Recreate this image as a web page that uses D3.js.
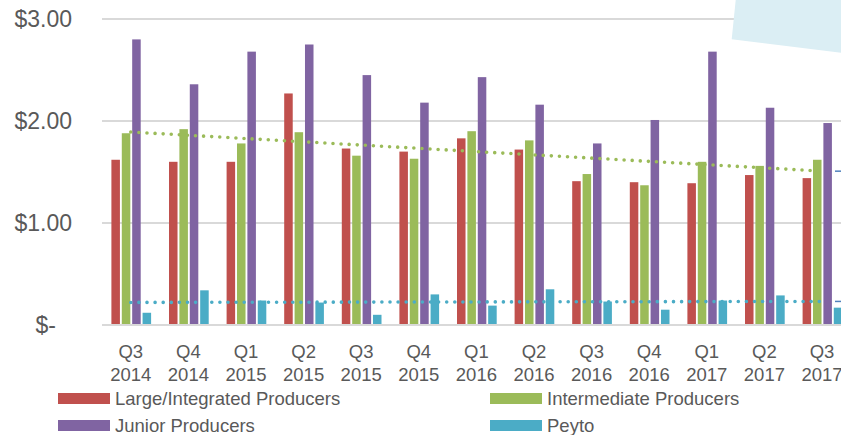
<!DOCTYPE html>
<html>
<head>
<meta charset="utf-8">
<script src="https://cdn.jsdelivr.net/npm/d3@7"></script>
<style>
	body { margin: 0; background: #fff; }
	text { font-family: "Liberation Sans", Arial, sans-serif; fill: #595959; }
</style>
</head>
<body>
<div id="graph"></div>
<script>
var width = 841;
var height = 435;

var quarters = ["Q3", "Q4", "Q1", "Q2", "Q3", "Q4", "Q1", "Q2", "Q3", "Q4", "Q1", "Q2", "Q3"];
var years = ["2014", "2014", "2015", "2015", "2015", "2015", "2016", "2016", "2016", "2016", "2017", "2017", "2017"];

var seriesNames = ["Large/Integrated Producers", "Intermediate Producers", "Junior Producers", "Peyto"];
var seriesColors = ["#c0504d", "#9bbb59", "#8064a2", "#4bacc6"];

var large = [1.62, 1.60, 1.60, 2.27, 1.73, 1.70, 1.83, 1.72, 1.41, 1.40, 1.39, 1.47, 1.44];
var intermediate = [1.88, 1.92, 1.78, 1.89, 1.66, 1.63, 1.90, 1.81, 1.48, 1.37, 1.60, 1.56, 1.62];
var junior = [2.80, 2.36, 2.68, 2.75, 2.45, 2.18, 2.43, 2.16, 1.78, 2.01, 2.68, 2.13, 1.98];
var peyto = [0.12, 0.34, 0.24, 0.22, 0.10, 0.30, 0.19, 0.35, 0.23, 0.15, 0.24, 0.29, 0.17];

var yTicks = [0, 1, 2, 3];

var seriesValues = [large, intermediate, junior, peyto];

// category index list for the band scale
var cats = quarters.map(function (q, i) { return i; });

var left = 102;
var band = 57.6;

var xScale = d3.scaleBand().domain(cats).range([left, left + band * cats.length]);
var x1 = d3.scaleBand().domain(d3.range(4)).range([9.4, 49.1]).paddingInner(0.18);
var yScale = d3.scaleLinear().domain([0, 3]).range([325, 19]);

var chart = d3.select("#graph")
	.append("svg")
	.attr("width", width)
	.attr("height", height);

// gridlines
chart.append("g")
	.selectAll("line")
	.data(yTicks)
	.enter()
	.append("line")
	.attr("x1", left)
	.attr("x2", width)
	.attr("y1", function (d) { return yScale(d); })
	.attr("y2", function (d) { return yScale(d); })
	.attr("stroke", "#d9d9d9")
	.attr("stroke-width", 2);

// decorative shape in the corner
chart.append("path")
	.attr("d", "M735.7,0 L731.7,39.3 L841,52.7 L841,0 Z")
	.attr("fill", "#dbeef4");

// y labels
var yAxis = d3.axisLeft(yScale)
	.tickValues(yTicks)
	.tickSize(0)
	.tickPadding(0)
	.tickFormat(function (d) { return d == 0 ? "$-" : "$" + d3.format(".2f")(d); });

chart.append("g")
	.attr("transform", "translate(72,0)")
	.call(yAxis)
	.call(function (g) { g.select(".domain").remove(); })
	.selectAll("text")
	.attr("fill", "#595959")
	.style("font-size", "23px")
	.attr("dx", function (d) { return d == 0 ? -16 : 0; });

// bars
var groups = chart.append("g")
	.selectAll("g")
	.data(cats)
	.enter()
	.append("g")
	.attr("transform", function (d) { return "translate(" + xScale(d) + ",0)"; });

groups.selectAll("rect")
	.data(function (c) { return seriesValues.map(function (s, k) { return { k: k, v: s[c] }; }); })
	.enter()
	.append("rect")
	.attr("x", function (d) { return x1(d.k); })
	.attr("width", x1.bandwidth())
	.attr("y", function (d) { return yScale(d.v); })
	.attr("height", function (d) { return yScale(0) - yScale(d.v); })
	.attr("fill", function (d) { return seriesColors[d.k]; });

// linear trend lines for intermediate and peyto
function trend(vals) {
	var n = vals.length;
	var mx = d3.mean(cats);
	var my = d3.mean(vals);
	var sxy = 0, sxx = 0;
	for (var i = 0; i < n; ++i) {
		sxy += (i - mx) * (vals[i] - my);
		sxx += (i - mx) * (i - mx);
	}
	var b = sxy / sxx;
	return [my - b * mx, my + b * (n - 1 - mx)];
}

var center = function (i) { return xScale(i) + xScale.bandwidth() / 2; };
var last = cats.length - 1;

[[intermediate, seriesColors[1]], [peyto, seriesColors[3]]].forEach(function (t) {
	var ends = trend(t[0]);
	chart.append("line")
		.attr("x1", center(0))
		.attr("x2", center(last))
		.attr("y1", yScale(ends[0]))
		.attr("y2", yScale(ends[1]))
		.attr("stroke", t[1])
		.attr("stroke-width", 3.6)
		.attr("stroke-linecap", "round")
		.attr("stroke-dasharray", "0,8.1");
	// little marks at the right edge (cut off)
	chart.append("line")
		.attr("x1", 835)
		.attr("x2", width)
		.attr("y1", yScale(ends[1]))
		.attr("y2", yScale(ends[1]))
		.attr("stroke", "#4f81bd")
		.attr("stroke-width", 1.5);
});

// x axis baseline
chart.append("line")
	.attr("x1", left)
	.attr("x2", width)
	.attr("y1", yScale(0))
	.attr("y2", yScale(0))
	.attr("stroke", "#d9d9d9")
	.attr("stroke-width", 2);

// x labels (two lines)
var xl = chart.append("g")
	.selectAll("text")
	.data(cats)
	.enter()
	.append("text")
	.attr("text-anchor", "middle")
	.style("font-size", "18.5px");

xl.append("tspan")
	.attr("x", center)
	.attr("y", 358)
	.text(function (d) { return quarters[d]; });

xl.append("tspan")
	.attr("x", center)
	.attr("y", 381)
	.text(function (d) { return years[d]; });

// legend
var legendX = [58, 490, 58, 490];
var legendY = [393, 393, 420, 420];

var legend = chart.append("g")
	.selectAll("g")
	.data(seriesNames)
	.enter()
	.append("g")
	.attr("transform", function (d, i) { return "translate(" + legendX[i] + "," + legendY[i] + ")"; });

legend.append("rect")
	.attr("width", 52)
	.attr("height", 11)
	.attr("fill", function (d, i) { return seriesColors[i]; });

legend.append("text")
	.attr("x", 57)
	.attr("y", 12)
	.style("font-size", "18.5px")
	.text(function (d) { return d; });
</script>
</body>
</html>
